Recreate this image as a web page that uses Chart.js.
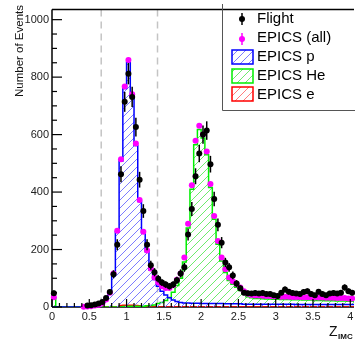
<!DOCTYPE html>
<html>
<head>
<meta charset="utf-8">
<script src="https://cdn.jsdelivr.net/npm/chart.js@4"></script>
<style>
  html, body { margin: 0; padding: 0; background: #fff; overflow: hidden; }
  #wrap { width: 355px; height: 342px; overflow: hidden; }
</style>
</head>
<body>
<div id="wrap"><canvas id="zChart" width="358" height="342"></canvas></div>
<script>
// bins of Z_IMC, 0.05 wide, starting at 0
const binWidth = 0.05;

const flight = [48, 0, 0, 0, 0, 0, 0, 0, 0, 5, 6, 9, 12, 17, 31, 52, 114, 217, 462, 714,
    812, 731, 626, 443, 334, 217, 145, 121, 98, 85, 78, 72, 78, 93, 117, 138, 252, 341, 455, 534,
    600, 614, 497, 376, 286, 224, 155, 138, 110, 82, 65, 50, 48, 47, 49, 47, 49, 45, 45, 41,
    38, 50, 61, 53, 49, 47, 45, 52, 55, 45, 41, 53, 45, 41, 47, 49, 47, 50, 68, 55, 50];

const epicsAll = [34, 0, 0, 0, 0, 0, 0, 0, 1, 2, 3, 5, 8, 13, 26, 50, 117, 265, 514, 767,
    860, 740, 569, 372, 262, 197, 134, 103, 85, 72, 66, 66, 76, 95, 117, 172, 290, 424, 579, 631,
    600, 541, 428, 317, 230, 172, 131, 103, 90, 80, 68, 55, 46, 42, 40, 40, 39, 38, 38, 37,
    37, 36, 36, 36, 35, 35, 35, 34, 34, 34, 33, 33, 33, 32, 32, 32, 31, 31, 31, 30, 30];

const epicsP = [0, 0, 0, 0, 0, 0, 0, 0, 1, 2, 3, 5, 8, 13, 26, 50, 116, 262, 508, 760,
    852, 733, 562, 367, 258, 192, 129, 96, 72, 55, 42, 32, 24, 19, 16, 14, 14, 13, 13, 13,
    12, 12, 12, 12, 12, 12, 11, 11, 11, 11, 11, 10, 10, 10, 10, 10, 10, 10, 10, 10,
    10, 10, 10, 10, 10, 9, 9, 9, 9, 9, 9, 9, 9, 9, 9, 9, 9, 9, 9, 9, 9];

const epicsHe = [32, 0, 0, 0, 0, 0, 0, 0, 0, 0, 0, 0, 0, 0, 0, 0, 0, 0, 0, 2,
    3, 3, 3, 3, 3, 4, 5, 7, 12, 16, 23, 33, 51, 75, 100, 157, 275, 410, 565, 618,
    588, 530, 416, 305, 218, 160, 120, 92, 79, 69, 57, 45, 36, 32, 30, 30, 29, 28, 28, 27,
    27, 26, 26, 26, 25, 25, 25, 24, 24, 24, 23, 23, 23, 22, 22, 22, 21, 21, 21, 20, 20];

const epicsE = [0, 0, 0, 0, 0, 0, 0, 0, 0, 0, 0, 0, 0, 0, 0, 0, 0, 0, 5, 6,
    6, 6, 5, 4, 0, 0, 0, 0, 0, 0, 0, 0, 0, 0, 0, 0, 0, 0, 0, 0,
    0, 0, 0, 0, 0, 0, 0, 0, 0, 0, 0, 0, 0, 0, 0, 0, 0, 0, 0, 0,
    0, 0, 0, 0, 0, 0, 0, 0, 0, 0, 0, 0, 0, 0, 0, 0, 0, 0, 0, 0, 0];

const xTickLabels = [0, 0.5, 1, 1.5, 2, 2.5, 3, 3.5, 4];
const yTickLabels = [0, 200, 400, 600, 800, 1000];
const cutLines = [0.66, 1.415];
const legendLabels = ['Flight', 'EPICS (all)', 'EPICS p', 'EPICS He', 'EPICS e'];
const errScale = 1.3; // flight error bar = errScale * sqrt(N)

const FONT = 'Liberation Sans, Arial, Helvetica, sans-serif';

// crisp 1px "/" hatching, 8px apart
function hatch(color) {
    const s = 8;
    const c = document.createElement('canvas');
    c.width = s; c.height = s;
    const g = c.getContext('2d');
    g.fillStyle = color;
    for (let i = 0; i < s; i++) g.fillRect(i, s - 1 - i, 1, 1);
    return g.createPattern(c, 'repeat');
}

function histData(vals) {
    const pts = vals.map((v, i) => ({ x: i * binWidth, y: v }));
    pts.push({ x: vals.length * binWidth, y: vals[vals.length - 1] });
    return pts;
}

function pointData(vals) {
    return vals.map((v, i) => ({ x: (i + 0.5) * binWidth, y: v })).filter(p => p.y > 0);
}

const hatchP = hatch('rgb(125,125,255)');
const hatchHe = hatch('rgb(110,235,110)');
const hatchE = hatch('rgb(255,125,125)');

function line(ctx, x1, y1, x2, y2) {
    ctx.beginPath();
    ctx.moveTo(x1, y1);
    ctx.lineTo(x2, y2);
    ctx.stroke();
}

const rootStyle = {
    id: 'rootStyle',
    beforeDatasetsDraw(chart) {
        const { ctx, chartArea: a, scales: { x } } = chart;
        ctx.save();
        ctx.strokeStyle = '#c4c4c4';
        ctx.lineWidth = 1.5;
        ctx.setLineDash([7, 5]);
        cutLines.forEach(c => {
            const px = x.getPixelForValue(c);
            line(ctx, px, a.top, px, a.bottom);
        });
        ctx.setLineDash([]);
        ctx.strokeStyle = '#000';
        ctx.lineWidth = 1.5;
        line(ctx, a.left, a.top, a.right, a.top);
        line(ctx, a.left, a.top, a.left, a.bottom);
        line(ctx, a.left, a.bottom, a.right, a.bottom);
        ctx.restore();
    },
    beforeDatasetDraw(chart, args) {
        if (args.index !== 0) return;
        const { ctx, scales: { y } } = chart;
        ctx.save();
        ctx.strokeStyle = '#000';
        ctx.lineWidth = 1.5;
        args.meta.data.forEach((el, i) => {
            const n = chart.data.datasets[0].data[i].y;
            const e = errScale * Math.sqrt(n);
            line(ctx, el.x, y.getPixelForValue(n + e), el.x, y.getPixelForValue(Math.max(0, n - e)));
        });
        ctx.restore();
    },
    afterDatasetsDraw(chart) {
        const { ctx, chartArea: a, scales: { x, y } } = chart;
        ctx.save();
        ctx.strokeStyle = '#000';
        ctx.lineWidth = 1.2;
        for (let k = 0; k <= 40; k++) {
            const px = x.getPixelForValue(k / 10);
            line(ctx, px, a.bottom, px, a.bottom - (k % 5 === 0 ? 8 : 4));
        }
        for (let k = 0; k <= 20; k++) {
            const py = y.getPixelForValue(k * 50);
            line(ctx, a.left, py, a.left + (k % 4 === 0 ? 10 : 5), py);
        }
        ctx.restore();
    },
    afterDraw(chart) {
        const { ctx } = chart;
        ctx.save();
        ctx.fillStyle = '#111';

        // y title
        ctx.save();
        ctx.translate(23, 5);
        ctx.rotate(-Math.PI / 2);
        ctx.font = '11.5px ' + FONT;
        ctx.textAlign = 'right';
        ctx.fillText('Number of Events', 0, 0);
        ctx.restore();

        // x title
        ctx.font = '14px ' + FONT;
        ctx.fillText('Z', 329, 336);
        ctx.font = 'bold 8px ' + FONT;
        ctx.fillText('IMC', 338, 339);

        // legend box
        ctx.strokeStyle = '#555';
        ctx.lineWidth = 1;
        line(ctx, 222.5, 4, 222.5, 110.5);
        line(ctx, 222.5, 110.5, 358, 110.5);

        const baselines = [23, 42, 61, 80, 99];
        ctx.font = '15px ' + FONT;
        ctx.textAlign = 'left';
        legendLabels.forEach((t, i) => {
            ctx.fillStyle = '#000';
            ctx.fillText(t, 257, baselines[i]);
        });

        // marker symbols
        const mk = [['#000', 19], ['#ff00ff', 39]];
        mk.forEach(([c, yy]) => {
            ctx.strokeStyle = c;
            ctx.lineWidth = 1.5;
            line(ctx, 242, yy - 6, 242, yy + 6);
            ctx.fillStyle = c;
            ctx.beginPath();
            ctx.arc(242, yy, 3, 0, Math.PI * 2);
            ctx.fill();
        });
        const boxes = [['#0000ff', hatchP, 57], ['#00ee00', hatchHe, 76], ['#ff0000', hatchE, 94]];
        boxes.forEach(([c, p, yy]) => {
            ctx.fillStyle = p;
            ctx.fillRect(232, yy - 7, 21, 14);
            ctx.strokeStyle = c;
            ctx.lineWidth = 1.5;
            ctx.strokeRect(232, yy - 7, 21, 14);
        });
        ctx.restore();
    }
};

const tickFont = { family: FONT, size: 11 };

function histSet(label, vals, color, pattern, order) {
    return {
        label: label,
        data: histData(vals),
        showLine: true,
        stepped: 'before',
        fill: 'origin',
        borderColor: color,
        borderWidth: 1.5,
        backgroundColor: pattern,
        pointRadius: 0,
        order: order,
    };
}

new Chart(document.getElementById('zChart'), {
    type: 'line',
    data: {
        datasets: [
            {
                label: legendLabels[0],
                data: pointData(flight),
                showLine: false,
                backgroundColor: '#000',
                borderColor: '#000',
                pointRadius: 3,
                pointBorderWidth: 0,
                order: 1,
                clip: 5,
            },
            {
                label: legendLabels[1],
                data: pointData(epicsAll),
                showLine: false,
                backgroundColor: '#ff00ff',
                borderColor: '#ff00ff',
                pointRadius: 3,
                pointBorderWidth: 0,
                order: 2,
                clip: 5,
            },
            histSet(legendLabels[2], epicsP, '#0000ff', hatchP, 3),
            histSet(legendLabels[3], epicsHe, '#00ee00', hatchHe, 4),
            histSet(legendLabels[4], epicsE, '#ff0000', hatchE, 5),
        ]
    },
    options: {
        responsive: false,
        animation: false,
        events: [],
        layout: { padding: { top: 6, left: 0, right: 0, bottom: 0 } },
        plugins: {
            legend: { display: false },
            tooltip: { enabled: false },
        },
        scales: {
            x: {
                type: 'linear',
                min: 0,
                max: 4.05,
                grid: { display: false, drawTicks: false },
                border: { display: false },
                ticks: {
                    font: tickFont,
                    color: '#222',
                    padding: 3,
                    maxRotation: 0,
                    autoSkip: false,
                    callback: v => String(v),
                },
                afterBuildTicks: s => { s.ticks = xTickLabels.map(v => ({ value: v })); },
                afterFit: s => { s.height = 35; },
            },
            y: {
                min: 0,
                max: 1035,
                grid: { display: false, drawTicks: false },
                border: { display: false },
                ticks: {
                    font: tickFont,
                    color: '#222',
                    padding: 3,
                    autoSkip: false,
                    callback: v => String(v),
                },
                afterBuildTicks: s => { s.ticks = yTickLabels.map(v => ({ value: v })); },
                afterFit: s => { s.width = 52; },
            },
        },
    },
    plugins: [rootStyle],
});
</script>
</body>
</html>
